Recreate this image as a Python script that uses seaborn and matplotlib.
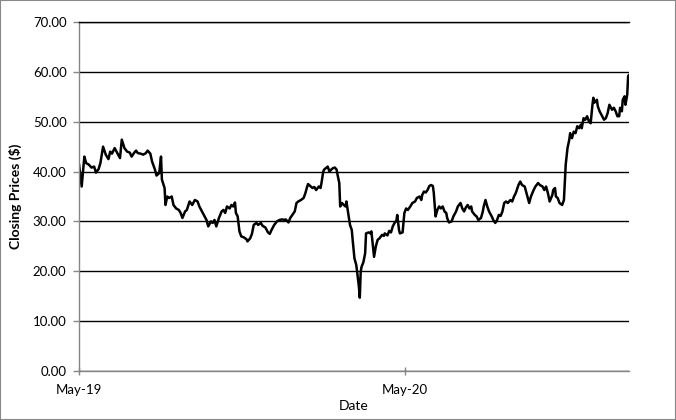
import pandas as pd
import matplotlib.pyplot as plt
import matplotlib.dates as mdates
import matplotlib.ticker as mticker
from matplotlib.patches import Rectangle
import seaborn as sns

start_date = "2019-05-01"

days = [
    0, 3, 6, 8, 11, 14, 17, 19, 22, 24, 27, 30, 33, 35, 37, 40, 43, 46, 48, 51,
    54, 57, 59, 62, 64, 66, 69, 72, 75, 77, 80, 82, 85, 87, 90, 92, 93, 96, 97, 99,
    101, 104, 106, 109, 112, 114, 116, 119, 121,
    124, 127, 130, 133, 135, 138, 141, 143, 145, 148, 150, 152, 154, 157, 160, 162, 164, 166, 169, 171,
    173, 175, 176, 178, 180, 182, 185, 188, 189, 192, 194, 196, 199, 201, 204, 206, 209, 212, 214, 216,
    219, 222, 225, 228, 231, 232, 235, 237, 240, 242, 244, 246,
    249, 252, 254, 256, 257, 260, 262, 264, 266, 269, 271, 272, 274, 275, 277, 279, 281, 283, 285, 287,
    289, 290, 292, 293, 295, 297, 299, 300, 302, 304, 306, 307, 309, 311, 312, 314, 315, 316, 317, 319,
    321, 322, 325, 327, 328, 330, 331, 333, 335, 337, 340, 342, 343, 346, 348, 350, 352, 354, 356, 357,
    359, 360, 363, 365, 367, 369,
    372, 374, 377, 379, 382, 384, 385, 387, 389, 391, 393, 395, 397, 398, 400, 402, 404, 406, 408, 410,
    412, 413, 415, 418, 420, 423, 425, 428, 430, 432, 434, 436, 438, 440, 441, 444, 446, 448, 451, 453,
    454, 456, 458, 460, 463, 465, 467, 469, 471, 473, 475, 477, 479, 481, 484, 486, 488, 490, 493,
    495, 497, 500, 502, 505, 507, 510, 512, 515, 517, 520, 522, 524, 526, 528, 531, 532, 534, 535, 537,
    539, 542, 544, 545, 546, 548, 550, 551, 553, 555, 557, 559, 561, 563, 564, 566, 568, 570, 572, 574,
    576, 577, 578, 581, 582, 584, 587, 589, 591, 593, 595, 598, 600, 602, 604, 606, 607, 609, 610, 612,
    613, 615, 616, 617,
]

closing = [
    41.5, 37.0, 43.0, 41.7, 41.4, 40.8, 41.0, 39.8, 40.5, 41.7, 45.0, 43.4, 42.5, 44.0, 43.6, 44.7, 43.7, 42.7, 46.4, 44.7,
    44.0, 43.8, 43.0, 43.8, 44.2, 43.7, 43.6, 43.4, 43.7, 44.2, 43.6, 42.0, 40.5, 39.2, 39.7, 43.0, 38.4, 36.7, 33.3, 35.0,
    34.7, 35.0, 33.3, 32.6, 32.3, 31.7, 30.7, 32.0, 32.3,
    34.0, 33.3, 34.3, 34.0, 33.0, 32.0, 31.0, 30.3, 29.0, 30.0, 29.7, 30.3, 29.0, 30.7, 32.0, 32.3, 31.7, 33.0, 32.6, 33.3,
    33.0, 33.8, 31.7, 31.0, 28.0, 27.0, 26.8, 26.4, 26.0, 26.6, 27.5, 29.3, 29.7, 29.3, 29.7, 29.1, 28.8, 27.8, 27.5, 28.3,
    29.3, 30.0, 30.3, 30.4, 30.3, 30.4, 29.8, 30.7, 31.5, 32.0, 33.7, 34.0,
    34.3, 34.7, 35.7, 37.0, 37.5, 37.0, 36.7, 36.9, 36.3, 37.0, 36.7, 37.7, 40.0, 40.4, 40.7, 41.0, 40.0, 40.4, 40.7, 40.8,
    40.4, 39.4, 37.7, 33.0, 33.7, 33.3, 33.0, 34.0, 31.7, 29.3, 28.3, 26.3, 22.6, 21.3, 19.9, 16.9, 14.7, 19.9, 20.9, 21.8,
    23.6, 27.6, 27.8, 27.6, 28.0, 24.6, 22.9, 25.0, 26.3, 26.6, 27.3, 27.1, 27.6, 27.2, 28.1, 27.8, 29.0, 29.7, 30.1, 31.3,
    28.3, 27.6, 27.8, 31.7, 32.6, 32.3,
    33.1, 33.7, 34.0, 34.7, 35.0, 34.3, 35.3, 36.0, 35.8, 36.3, 37.1, 37.3, 37.1, 35.7, 31.0, 32.3, 33.0, 32.6, 33.0, 32.0,
    31.7, 30.7, 29.8, 30.0, 31.0, 32.0, 33.0, 33.7, 32.6, 32.0, 32.8, 33.3, 32.6, 33.0, 32.0, 31.3, 31.0, 30.3, 30.7, 32.0,
    33.0, 34.3, 33.0, 32.0, 31.0, 30.2, 29.7, 30.3, 31.3, 31.1, 32.0, 33.7, 34.0, 33.7, 34.3, 34.0, 35.0, 35.7, 37.3,
    38.0, 37.3, 37.0, 35.7, 33.7, 35.0, 36.3, 37.0, 37.7, 37.3, 37.0, 36.3, 37.0, 35.7, 34.0, 35.3, 36.3, 36.7, 35.0, 34.7,
    33.7, 33.3, 34.3, 37.7, 41.4, 44.7, 46.4, 47.7, 46.7, 48.0, 47.7, 49.1, 48.7, 49.4, 48.7, 50.7, 50.4, 51.1, 50.1, 49.7,
    53.4, 54.8, 53.8, 54.4, 53.1, 52.1, 51.1, 50.4, 50.7, 51.7, 53.4, 52.4, 52.8, 52.1, 51.1, 51.1, 52.8, 52.1, 54.4, 55.1,
    53.4, 55.4, 59.1, 59.4,
]

y_ticks = [0, 10, 20, 30, 40, 50, 60, 70]

dates = pd.Timestamp(start_date) + pd.to_timedelta(days, unit="D")
df = pd.DataFrame({"Date": dates, "Close": closing})

sns.set_theme(style="white")
plt.rcParams["font.family"] = ["Lato", "DejaVu Sans"]

fig, ax = plt.subplots(figsize=(6.76, 4.2), dpi=100)
fig.subplots_adjust(left=79 / 676, right=629 / 676, top=1 - 22 / 420, bottom=1 - 371 / 420)

sns.lineplot(data=df, x="Date", y="Close", color="black", linewidth=1.8, ax=ax)

ax.set_ylim(0, 70)
ax.set_yticks(y_ticks)
ax.yaxis.set_major_formatter(mticker.StrMethodFormatter("{x:.2f}"))
ax.set_xlim(df["Date"].iloc[0], df["Date"].iloc[-1])
ax.xaxis.set_major_locator(mdates.MonthLocator(bymonth=5))
ax.xaxis.set_major_formatter(mdates.DateFormatter("%b-%y"))

# Excel-like look: black horizontal gridlines, grey axes
ax.set_axisbelow(True)
ax.grid(axis="y", color="black", linewidth=1)
ax.grid(axis="x", visible=False)
for side in ["left", "bottom"]:
    ax.spines[side].set_color("#868686")
    ax.spines[side].set_linewidth(1)
ax.spines["top"].set_color("black")
ax.spines["top"].set_linewidth(1)
ax.spines["right"].set_visible(False)

ax.tick_params(axis="y", direction="out", length=4, width=1, color="#868686",
               pad=5, labelsize=9.5, labelcolor="black", left=True)
ax.tick_params(axis="x", direction="inout", length=6, width=1, color="#868686",
               pad=6, labelsize=9.5, labelcolor="black", bottom=True)

ax.set_ylabel("Closing Prices ($)", fontsize=10, fontweight="bold", color="black")
ax.set_xlabel("Date", fontsize=10, color="black")
ax.yaxis.set_label_coords(-0.104, 0.5)
ax.xaxis.set_label_coords(0.5, -0.083)

fig.patches.append(Rectangle((0, 0), 1, 1, transform=fig.transFigure, fill=False,
                             edgecolor="#888888", linewidth=1.5))

fig.savefig("out.png", dpi=100)
plt.close()
